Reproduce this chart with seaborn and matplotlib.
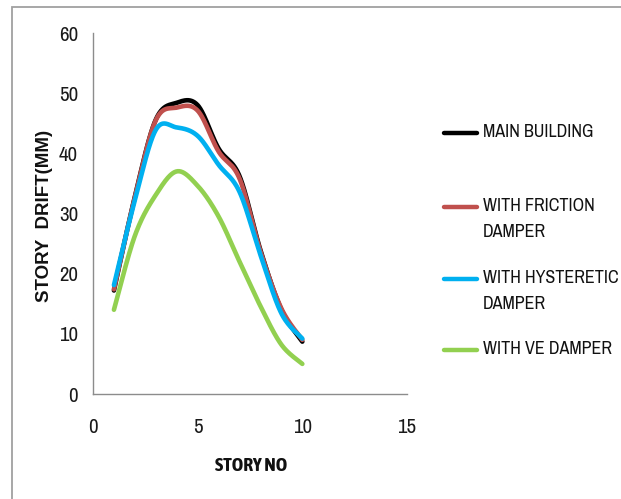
import numpy as np
import pandas as pd
import matplotlib
matplotlib.use("Agg")
import matplotlib.pyplot as plt
from matplotlib import font_manager
from matplotlib.lines import Line2D
from matplotlib.patches import Rectangle
import seaborn as sns

# Story numbers and drift values (mm) for each configuration
stories = [1, 2, 3, 4, 5, 6, 7, 8, 9, 10]
main_building = [17.2, 32.8, 45.6, 48.4, 48.0, 40.8, 36.2, 23.9, 14.0, 8.7]
friction_damper = [17.4, 32.7, 45.5, 47.6, 47.1, 40.3, 35.8, 23.7, 14.2, 9.0]
hysteretic_damper = [18.1, 32.2, 43.9, 44.3, 42.9, 38.1, 33.6, 23.1, 13.4, 9.2]
ve_damper = [14.0, 26.3, 33.1, 37.0, 34.6, 29.5, 22.0, 14.6, 8.2, 5.0]

series_names = ["MAIN BUILDING", "WITH FRICTION\nDAMPER",
                "WITH HYSTERETIC\nDAMPER", "WITH VE DAMPER"]
series_values = [main_building, friction_damper, hysteretic_damper, ve_damper]
colors = ["#000000", "#C0504D", "#00B0F0", "#92D050"]

x_ticks = [0, 5, 10, 15]
y_ticks = [0, 10, 20, 30, 40, 50, 60]


def smooth_curve(xs, ys, n=40):
    """Spreadsheet-style smoothed line: cubic Bezier segments through every point."""
    pts = np.column_stack([xs, ys]).astype(float)
    segs = []
    last = len(pts) - 2
    for i in range(len(pts) - 1):
        p0 = pts[max(i - 1, 0)]
        p1 = pts[i]
        p2 = pts[i + 1]
        p3 = pts[min(i + 2, len(pts) - 1)]
        c1 = p1 + (p2 - p0) / 6.0
        c2 = p2 - (p3 - p1) / 6.0
        t = np.linspace(0, 1, n, endpoint=(i == last))[:, None]
        segs.append((1 - t) ** 3 * p1 + 3 * (1 - t) ** 2 * t * c1
                    + 3 * (1 - t) * t ** 2 * c2 + t ** 3 * p2)
    return np.vstack(segs)


frames = []
for name, vals in zip(series_names, series_values):
    c = smooth_curve(stories, vals)
    frames.append(pd.DataFrame({"story": c[:, 0], "drift": c[:, 1], "series": name}))
df = pd.concat(frames, ignore_index=True)


def _weight(w):
    return w if isinstance(w, (int, float)) else font_manager.weight_dict.get(w, 400)


# Prefer a condensed face for the labels if one is available
fonts = font_manager.fontManager.ttflist
narrow = sorted({f.name for f in fonts if "Narrow" in f.name or "Condensed" in f.name})
narrow_bold = sorted({f.name for f in fonts
                      if ("Narrow" in f.name or "Condensed" in f.name)
                      and _weight(f.weight) >= 600})
if narrow:
    body_font = narrow[0]
    tick_size, legend_size, legend_ls = 15, 13, 1.75
else:
    body_font = "Liberation Sans"
    tick_size, legend_size, legend_ls = 12, 10.6, 1.9
if narrow_bold:
    xlabel_font, xlabel_size = narrow_bold[0], 14
else:
    xlabel_font, xlabel_size = "Liberation Sans", 10.6

sns.set_style("white")
plt.rcParams["font.family"] = [body_font, "DejaVu Sans"]

W, H = 621, 499
fig = plt.figure(figsize=(W / 100, H / 100), dpi=100)
ax = fig.add_axes([93 / W, 1 - 394 / H, (407 - 93) / W, (394 - 33) / H])

sns.lineplot(data=df, x="story", y="drift", hue="series", palette=colors,
             hue_order=series_names, sort=False, estimator=None,
             linewidth=3.3, legend=False, ax=ax, solid_capstyle="round")

ax.set_xlim(0, 15)
ax.set_ylim(0, 60)
ax.set_xticks(x_ticks)
ax.set_yticks(y_ticks)
ax.set_xticklabels([str(v) for v in x_ticks])
ax.set_yticklabels([str(v) for v in y_ticks])

for side in ["top", "right"]:
    ax.spines[side].set_visible(False)
for side in ["left", "bottom"]:
    ax.spines[side].set_color("#8C8C8C")
    ax.spines[side].set_linewidth(1.0)

ax.tick_params(axis="x", direction="out", length=4.5, width=1.0, color="#8C8C8C",
               pad=13, labelsize=tick_size, labelcolor="#1A1A1A")
ax.tick_params(axis="y", direction="out", length=3.8, width=1.0, color="#8C8C8C",
               pad=7, labelsize=tick_size, labelcolor="#1A1A1A")

ax.set_xlabel("STORY NO", fontsize=xlabel_size, fontweight="bold", color="#111111",
              family=[xlabel_font, "DejaVu Sans"], va="center")
ax.xaxis.set_label_coords((251 - 93) / 314, (394 - 466) / 361)
ax.set_ylabel("STORY  DRIFT(MM)", fontsize=13.5, fontweight="bold", color="#111111",
              family=["Liberation Sans", "DejaVu Sans"], va="center", ha="center")
ax.yaxis.set_label_coords((45 - 93) / 314, (394 - 216) / 361)

# Legend at the right of the plot, handles aligned with the first text line
entries = [(133, series_names[0]), (207, series_names[1]),
           (279, series_names[2]), (350, series_names[3])]
for (ypx, label), col in zip(entries, colors):
    fy = 1 - ypx / H
    fig.add_artist(Line2D([444 / W, 477 / W], [fy, fy], color=col, linewidth=3.2,
                          solid_capstyle="round", transform=fig.transFigure))
    fig.text(483 / W, 1 - (ypx - 9) / H, label, fontsize=legend_size, color="#111111",
             va="top", ha="left", linespacing=legend_ls)

# Chart-area frame
fig.add_artist(Rectangle((12 / W, -0.1), 1.0, 1 - 7 / H + 0.1, transform=fig.transFigure,
                         fill=False, edgecolor="#A0A0A0", linewidth=1.3))

fig.savefig("out.png", dpi=100, facecolor="white")
